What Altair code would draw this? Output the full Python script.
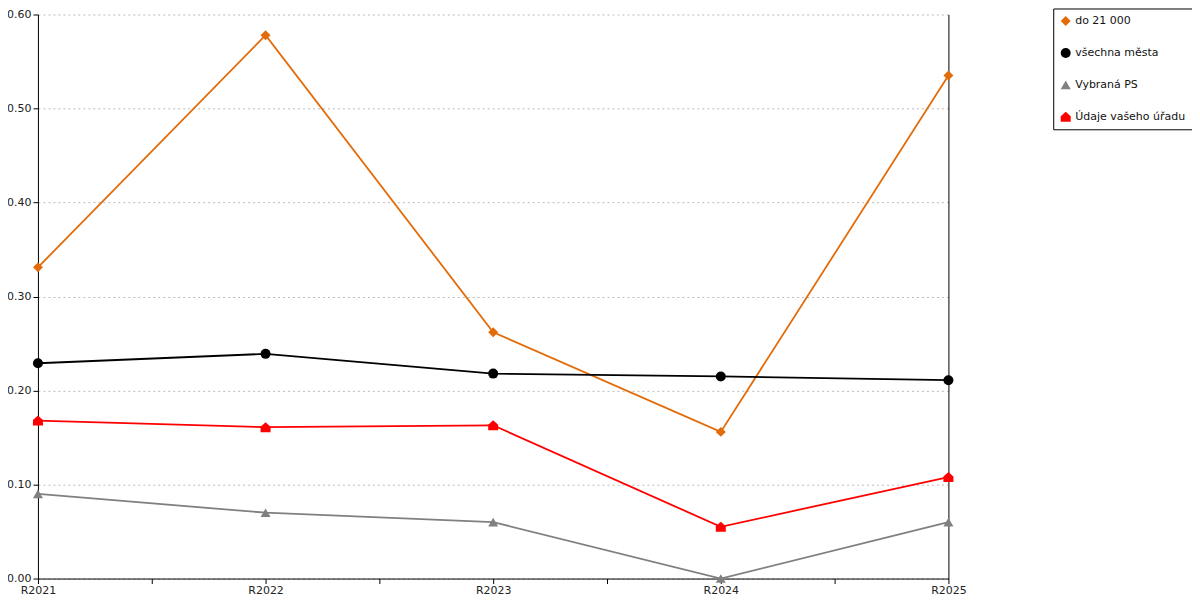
import altair as alt
import pandas as pd

years = ["R2021", "R2022", "R2023", "R2024", "R2025"]
series_names = ["do 21 000", "všechna města", "Vybraná PS", "Údaje vašeho úřadu"]
do_21000 = [0.331, 0.578, 0.262, 0.156, 0.535]
vsechna_mesta = [0.229, 0.239, 0.218, 0.215, 0.211]
vybrana_ps = [0.090, 0.070, 0.060, 0.000, 0.060]
udaje_uradu = [0.168, 0.161, 0.163, 0.055, 0.108]
colors = ["#E36C0A", "#000000", "#808080", "#FF0000"]
house = "M-1,-0.1L0,-1L1,-0.1L1,1L-1,1Z"
shapes = ["diamond", "circle", "triangle-up", house]

rows = []
for name, vals in zip(series_names, [do_21000, vsechna_mesta, vybrana_ps, udaje_uradu]):
    for i, (yr, v) in enumerate(zip(years, vals)):
        rows.append({"serie": name, "rok": yr, "idx": i, "hodnota": v})
df = pd.DataFrame(rows)

label_expr = "datum.value % 1 == 0 ? " + str(years) + "[datum.value] : ''"
font = "DejaVu Sans"

x = alt.X("idx:Q",
          scale=alt.Scale(domain=[0, len(years) - 1], nice=False, zero=False),
          axis=alt.Axis(title=None, values=[i * 0.5 for i in range(2 * len(years) - 1)],
                        labelExpr=label_expr, grid=False, domainColor="black",
                        tickColor="black", tickSize=5, labelPadding=1,
                        labelFontSize=11, labelFont=font, labelColor="#222",
                        labelAngle=0, labelAlign="center", labelOverlap=False,
                        labelFlush=False))
y_left = alt.Y("hodnota:Q",
               scale=alt.Scale(domain=[0, 0.6], nice=False),
               axis=alt.Axis(title=None, values=[0, 0.1, 0.2, 0.3, 0.4, 0.5, 0.6],
                             format=".2f", grid=True, gridColor="#bbbbbb",
                             gridDash=[2, 3], gridWidth=1, domainColor="black",
                             tickColor="black", tickSize=5, labelPadding=2,
                             labelFontSize=11, labelFont=font, labelColor="#222",
                             labelFlush=False))

color_scale = alt.Scale(domain=series_names, range=colors)
color = alt.Color("serie:N", scale=color_scale,
                  legend=alt.Legend(title=None, orient="none", legendX=1017, legendY=-6,
                                    strokeColor="black", fillColor="white", padding=7,
                                    labelFont=font, labelFontSize=11, labelColor="#111",
                                    symbolSize=100, rowPadding=20, labelOffset=4,
                                    symbolStrokeWidth=0, labelLimit=300))
shape = alt.Shape("serie:N", scale=alt.Scale(domain=series_names, range=shapes),
                  legend=alt.Legend(title=None, orient="none", legendX=1017, legendY=-6))

lines = alt.Chart(df).mark_line(strokeWidth=1.8).encode(
    x=x, y=y_left, color=color, detail="serie:N", order="idx:Q")
points = alt.Chart(df).mark_point(filled=True, size=100, opacity=1).encode(
    x=x, y=y_left, color=color, shape=shape)
main = alt.layer(lines, points)

right_axis = alt.Chart(df).mark_point(opacity=0).encode(
    x=x,
    y=alt.Y("hodnota:Q", scale=alt.Scale(domain=[0, 0.6], nice=False),
            axis=alt.Axis(title=None, orient="right", labels=False, ticks=False,
                          grid=False, domainColor="black")))

chart = alt.layer(main, right_axis).resolve_scale(y="independent").properties(
    width=912, height=565,
    autosize=alt.AutoSizeParams(type="none"),
    padding={"left": 30, "top": 6, "right": 244, "bottom": 18},
).configure_view(stroke=None)

chart.save("out.html", embed_options={"renderer": "svg", "actions": False})
